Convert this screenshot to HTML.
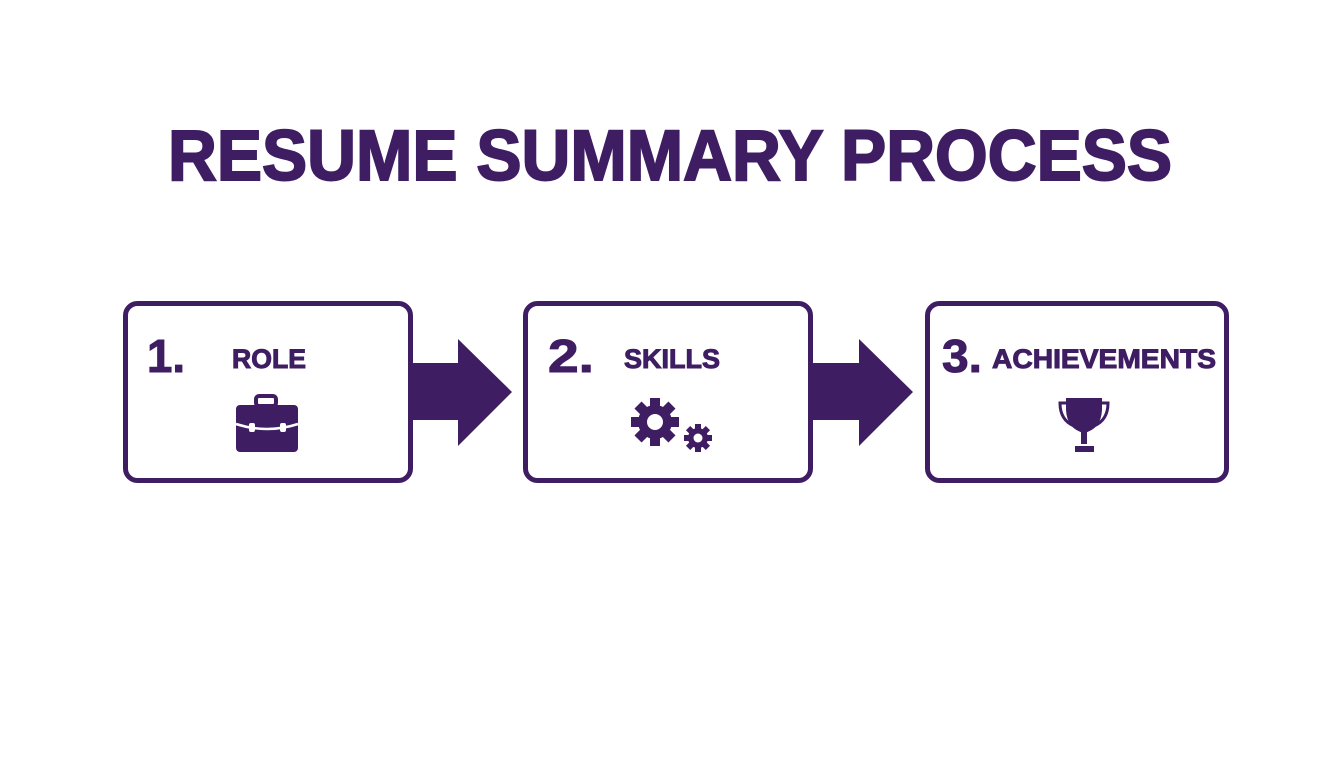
<!DOCTYPE html>
<html><head><meta charset="utf-8"><style>html,body{margin:0;padding:0;background:#fff}</style></head>
<body>
<svg width="1344" height="768" viewBox="0 0 1344 768" xmlns="http://www.w3.org/2000/svg" font-family="Liberation Sans, sans-serif" font-weight="bold" fill="#3f1d63">
<rect width="1344" height="768" fill="#fff"/>
<text x="168" y="180" font-size="71" textLength="1004" lengthAdjust="spacingAndGlyphs" stroke="#3f1d63" stroke-width="2">RESUME SUMMARY PROCESS</text>
<g fill="none" stroke="#3f1d63" stroke-width="5">
<rect x="125.5" y="303.5" width="285" height="177" rx="12"/>
<rect x="525.5" y="303.5" width="285" height="177" rx="12"/>
<rect x="927.5" y="303.5" width="299" height="177" rx="12"/>
</g>
<polygon points="413,363 458,363 458,339 512,392 458,446 458,420 413,420"/>
<polygon points="813,363 859,363 859,339 913,392 859,446 859,420 813,420"/>
<g stroke="#3f1d63" stroke-width="1">
<text x="147" y="372" font-size="46" textLength="38" lengthAdjust="spacingAndGlyphs">1.</text>
<text x="232" y="368" font-size="27" textLength="74" lengthAdjust="spacingAndGlyphs">ROLE</text>
<text x="548" y="372" font-size="46" textLength="46" lengthAdjust="spacingAndGlyphs">2.</text>
<text x="624" y="368" font-size="27" textLength="96" lengthAdjust="spacingAndGlyphs">SKILLS</text>
<text x="942" y="372" font-size="46" textLength="40" lengthAdjust="spacingAndGlyphs">3.</text>
<text x="992" y="368" font-size="27" textLength="224" lengthAdjust="spacingAndGlyphs">ACHIEVEMENTS</text>
</g>
<!-- briefcase -->
<rect x="256" y="396" width="20" height="10" rx="3" fill="none" stroke="#3f1d63" stroke-width="4"/>
<rect x="236" y="405" width="62" height="47" rx="4"/>
<path d="M236 424 Q267 434 298 424" stroke="#fff" stroke-width="2.5" fill="none"/>
<rect x="249" y="423" width="6" height="9" rx="2" fill="#fff"/>
<rect x="280" y="423" width="6" height="9" rx="2" fill="#fff"/>
<!-- gears -->
<g transform="translate(655,422)">
<circle r="17"/>
<g><rect x="-5" y="-24" width="10" height="48"/><rect x="-24" y="-5" width="48" height="10"/>
<rect x="-5" y="-24" width="10" height="48" transform="rotate(45)"/><rect x="-5" y="-24" width="10" height="48" transform="rotate(-45)"/></g>
<circle r="8" fill="#fff"/>
</g>
<g transform="translate(698,438)">
<circle r="10"/>
<rect x="-3" y="-14" width="6" height="28"/><rect x="-14" y="-3" width="28" height="6"/>
<rect x="-3" y="-14" width="6" height="28" transform="rotate(45)"/><rect x="-3" y="-14" width="6" height="28" transform="rotate(-45)"/>
<circle r="4.5" fill="#fff"/>
</g>
<!-- trophy -->
<path d="M1066 398 L1102 398 L1102 410 Q1101 429 1084 433 Q1067 429 1066 410 Z"/>
<path d="M1066 403 L1060 403 Q1060 420 1074 426 M1102 403 L1108 403 Q1108 420 1094 426" fill="none" stroke="#3f1d63" stroke-width="3"/>
<rect x="1081" y="430" width="6" height="14"/>
<rect x="1075" y="446" width="19" height="6"/>
</svg>
</body></html>
